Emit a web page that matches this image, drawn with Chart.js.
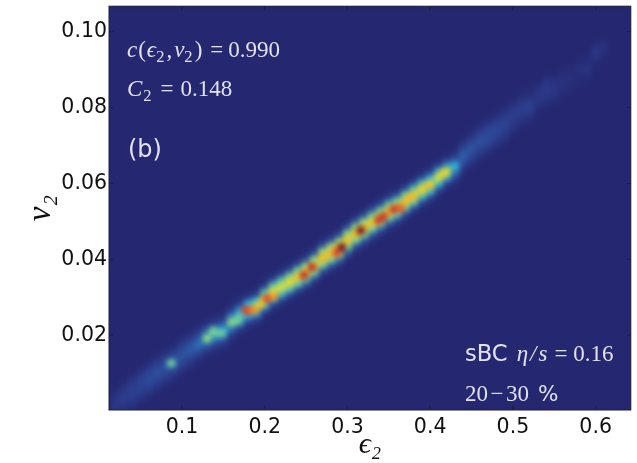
<!DOCTYPE html>
<html>
<head>
<meta charset="utf-8">
<title>v2 vs eps2</title>
<script src="https://cdn.jsdelivr.net/npm/chart.js@4"></script>
<style>
    html, body { margin: 0; padding: 0; background: #fff; }
    canvas { display: block; }
</style>
</head>
<body>
<canvas id="heatChart" width="637" height="463"></canvas>
<script>
// Tick labels
const xTicks = [0.1, 0.2, 0.3, 0.4, 0.5, 0.6];
const yTicks = [0.02, 0.04, 0.06, 0.08, 0.10];

// Ridge of the 2D histogram, one entry per eps2 column
const ridgeEps = [0.02, 0.03, 0.04, 0.05, 0.06, 0.07, 0.08, 0.09, 0.10, 0.11, 0.12, 0.13, 0.14, 0.15, 0.16, 0.17, 0.18, 0.19, 0.20, 0.21,
    0.22, 0.23, 0.24, 0.25, 0.26, 0.27, 0.28, 0.29, 0.30, 0.31, 0.32, 0.33, 0.34, 0.35, 0.36, 0.37, 0.38, 0.39, 0.40, 0.41,
    0.42, 0.43, 0.44, 0.45, 0.46, 0.47, 0.48, 0.49, 0.50, 0.51, 0.52, 0.53, 0.54, 0.55, 0.56, 0.57, 0.58, 0.59, 0.60, 0.61];
const ridgeV2 = [0.0021, 0.0037, 0.0053, 0.0071, 0.0084, 0.0100, 0.0116, 0.0129, 0.0147, 0.0161, 0.0176, 0.0192, 0.0203, 0.0211, 0.0234, 0.0250, 0.0266, 0.0274, 0.0295, 0.0313,
    0.0326, 0.0339, 0.0353, 0.0366, 0.0382, 0.0403, 0.0416, 0.0429, 0.0450, 0.0468, 0.0482, 0.0497, 0.0511, 0.0526, 0.0537, 0.0553, 0.0568, 0.0584, 0.0597, 0.0616,
    0.0632, 0.0645, 0.0674, 0.0692, 0.0711, 0.0724, 0.0739, 0.0755, 0.0776, 0.0797, 0.0803, 0.0829, 0.0845, 0.0850, 0.0866, 0.0876, 0.0897, 0.0903, 0.0945, 0.0961];

// Density across the ridge in each column, 0..1, lowest v2 first
const v2Step = 0.0015;
const profiles = [
    [.01, .04, .07, .08, .06, .03, 0], [.01, .05, .08, .10, .08, .04, .01], [.02, .06, .10, .11, .09, .05, .01], [.02, .07, .11, .12, .10, .05, .01],
    [.02, .07, .12, .14, .12, .06, .02], [.02, .07, .12, .15, .12, .06, .02], [.02, .07, .12, .16, .12, .06, .02], [.02, .07, .13, .18, .13, .06, .02],
    [.02, .07, .13, .16, .13, .07, .02], [.02, .07, .13, .18, .14, .07, .02], [.02, .07, .15, .22, .16, .07, .02], [.02, .07, .20, .33, .22, .07, .02],
    [.02, .08, .20, .32, .20, .07, .02], [.02, .08, .20, .32, .20, .07, .02], [.02, .08, .22, .34, .24, .08, .02], [.02, .09, .26, .38, .28, .09, .02],
    [.02, .09, .28, .48, .32, .09, .02], [.02, .10, .30, .50, .34, .10, .02], [.02, .11, .34, .54, .38, .11, .02], [.02, .12, .36, .54, .40, .12, .02],
    [.02, .12, .36, .52, .40, .12, .02], [.02, .13, .38, .56, .42, .13, .02], [.02, .14, .40, .60, .44, .14, .02], [.02, .15, .42, .62, .46, .15, .03],
    [.02, .15, .42, .62, .46, .15, .03], [.02, .16, .44, .62, .46, .16, .03], [.03, .16, .44, .62, .48, .16, .03], [.03, .17, .46, .64, .48, .17, .03],
    [.03, .17, .44, .60, .46, .17, .03], [.03, .16, .44, .62, .46, .16, .03], [.03, .16, .44, .64, .46, .16, .03], [.03, .16, .42, .60, .44, .16, .03],
    [.03, .16, .44, .64, .44, .15, .03], [.03, .16, .44, .64, .44, .15, .03], [.03, .15, .42, .64, .42, .14, .02], [.02, .15, .42, .62, .42, .14, .02],
    [.02, .14, .40, .60, .40, .13, .02], [.02, .14, .38, .58, .36, .11, .02], [.02, .13, .36, .56, .33, .10, .02], [.02, .12, .33, .52, .30, .08, .01],
    [.02, .11, .30, .50, .25, .06, .01], [.02, .10, .22, .32, .17, .05, .01], [.02, .08, .15, .19, .13, .05, .01], [.02, .07, .13, .16, .12, .05, .02],
    [.02, .07, .12, .15, .12, .06, .02], [.02, .07, .12, .14, .12, .06, .02], [.02, .06, .11, .13, .11, .05, .02], [.02, .06, .10, .12, .10, .05, .02],
    [.01, .05, .08, .10, .08, .04, .01], [.01, .05, .08, .10, .07, .03, .01], [.01, .04, .08, .11, .07, .03, .01], [.01, .03, .06, .07, .05, .02, 0],
    [.01, .04, .07, .09, .07, .03, .01], [0, .03, .05, .07, .05, .02, 0], [0, .02, .04, .05, .04, .02, 0], [0, .02, .03, .04, .03, .01, 0],
    [0, .01, .03, .04, .03, .01, 0], [0, .01, .04, .06, .03, .01, 0], [0, .01, .04, .08, .04, .01, 0], [0, .01, .03, .05, .02, 0, 0]
];

// Small hot spots that sit on the ridge
const spotEps = [0.0871, 0.1305, 0.1377, 0.1473, 0.1594, 0.1666, 0.1775, 0.1871, 0.1955, 0.2028, 0.2112, 0.2473, 0.2570, 0.2714, 0.2871, 0.2931, 0.3160, 0.3377, 0.3437, 0.3558, 0.3642, 0.3763, 0.3980, 0.4160];
const spotV2 = [0.0126, 0.0192, 0.0211, 0.0205, 0.0234, 0.0239, 0.0266, 0.0266, 0.0282, 0.0297, 0.0303, 0.0358, 0.0379, 0.0405, 0.0418, 0.0432, 0.0476, 0.0503, 0.0513, 0.0532, 0.0534, 0.0563, 0.0595, 0.0626];
const spotLevel = [0.42, 0.46, 0.44, 0.42, 0.45, 0.44, 0.82, 0.72, 0.62, 0.82, 0.70, 0.88, 0.88, 0.64, 0.82, 1, 1, 0.86, 0.86, 0.86, 0.78, 0.64, 0.62, 0.58];

// Muted jet colormap as it looks in the picture
const colorStops = [
    [0, 37, 39, 112], [.1, 44, 60, 140], [.2, 45, 95, 170], [.33, 50, 175, 215], [.44, 120, 210, 150],
    [.54, 225, 225, 50], [.68, 245, 170, 40], [.82, 225, 70, 40], [1, 130, 25, 30]
];

function densityColor(v) {
    for (let i = 1; i < colorStops.length; i++) {
        const a = colorStops[i - 1], b = colorStops[i];
        if (v <= b[0]) {
            const t = (v - a[0]) / (b[0] - a[0]);
            return `rgb(${a[1] + (b[1] - a[1]) * t}, ${a[2] + (b[2] - a[2]) * t}, ${a[3] + (b[3] - a[3]) * t})`;
        }
    }
    return 'rgb(130, 25, 30)';
}

// Build cells, dim ones first so the peaks stay on top
const cells = [];
ridgeEps.forEach((eps, i) => {
    profiles[i].forEach((v, k) => {
        if (v > 0) cells.push({ x: eps, y: ridgeV2[i] + (k - 3) * v2Step, v: v });
    });
});
cells.sort((a, b) => a.v - b.v);
const spots = spotEps.map((eps, i) => ({ x: eps, y: spotV2[i], v: spotLevel[i] }));

const serif = '"Liberation Serif", serif';
const sans = '"DejaVu Sans", sans-serif';
const textColor = 'rgb(226, 226, 238)';

// Draw a run of text pieces with italics and subscripts
function drawMath(ctx, x, y, pieces, size) {
    ctx.textAlign = 'left';
    ctx.textBaseline = 'alphabetic';
    ctx.fillStyle = textColor;
    pieces.forEach(p => {
        const px = p.sans ? p.sans : (p.sub ? size * 0.72 : size);
        const family = p.sans ? sans : serif;
        ctx.font = `${p.it ? 'italic ' : ''}${px}px ${family}`;
        ctx.fillText(p.t, x, p.sub ? y + size * 0.22 : y);
        x += ctx.measureText(p.t).width + (p.gap || 0);
    });
}

const heatPlugin = {
    id: 'heat',
    beforeDatasetsDraw(chart) {
        const { ctx, chartArea: a } = chart;
        ctx.save();
        ctx.fillStyle = 'rgb(37, 39, 112)';
        ctx.fillRect(a.left, a.top, a.width, a.height);
        ctx.restore();
    },
    // The original image is interpolated, so soften the cells
    afterDatasetsDraw(chart) {
        const { ctx, canvas, chartArea: a } = chart;
        ctx.save();
        ctx.beginPath();
        ctx.rect(a.left, a.top, a.width, a.height);
        ctx.clip();
        ctx.filter = 'blur(2.6px)';
        ctx.drawImage(canvas, a.left, a.top, a.width, a.height, a.left, a.top, a.width, a.height);
        ctx.restore();
    },
    afterDraw(chart) {
        const { ctx, chartArea: a, scales } = chart;
        ctx.save();
        // Frame and small inward ticks
        ctx.strokeStyle = 'rgb(30, 30, 60)';
        ctx.lineWidth = 1;
        ctx.strokeRect(a.left, a.top, a.width, a.height);
        ctx.beginPath();
        xTicks.forEach(v => {
            const px = scales.x.getPixelForValue(v);
            ctx.moveTo(px, a.bottom); ctx.lineTo(px, a.bottom - 4);
            ctx.moveTo(px, a.top); ctx.lineTo(px, a.top + 4);
        });
        yTicks.forEach(v => {
            const py = scales.y.getPixelForValue(v);
            ctx.moveTo(a.left, py); ctx.lineTo(a.left + 4, py);
            ctx.moveTo(a.right, py); ctx.lineTo(a.right - 4, py);
        });
        ctx.stroke();

        // Annotations inside the plot
        drawMath(ctx, 127, 57, [
            { t: 'c', it: true, gap: 1 }, { t: '(', gap: 1 }, { t: 'ϵ', it: true }, { t: '2', sub: true, gap: 2 }, { t: ',', gap: 2 },
            { t: 'v', it: true }, { t: '2', sub: true, gap: 2 }, { t: ')', gap: 8 }, { t: '=', gap: 5 }, { t: '0.990' }
        ], 23);
        drawMath(ctx, 127, 96, [
            { t: 'C', it: true, gap: 1 }, { t: '2', sub: true, gap: 9 }, { t: '=', gap: 7 }, { t: '0.148' }
        ], 23);
        drawMath(ctx, 128, 157, [{ t: '(b)', sans: 24 }], 23);
        drawMath(ctx, 465, 361, [
            { t: 'sBC', sans: 22.6, gap: 9 }, { t: 'η', it: true, gap: 2 }, { t: '/', it: true, gap: 2 }, { t: 's', it: true, gap: 7 },
            { t: '=', gap: 6 }, { t: '0.16' }
        ], 23);
        drawMath(ctx, 465, 401, [
            { t: '20', gap: 2.5 }, { t: '−', gap: 2.5 }, { t: '30', gap: 9 }, { t: '%', sans: 21.5 }
        ], 23);
        ctx.restore();
    }
};

new Chart(document.getElementById('heatChart').getContext('2d'), {
    type: 'scatter',
    data: {
        datasets: [{
            // hot spots on top of the ridge
            data: spots,
            pointStyle: 'rect',
            pointRadius: 5.6,
            pointBorderWidth: 0,
            backgroundColor: spots.map(c => densityColor(c.v))
        }, {
            data: cells,
            pointStyle: 'rect',
            pointRadius: 6.2,
            pointBorderWidth: 0,
            backgroundColor: cells.map(c => densityColor(c.v))
        }]
    },
    options: {
        responsive: false,
        animation: false,
        events: [],
        layout: { padding: { top: 5, right: 4 } },
        plugins: {
            legend: { display: false },
            tooltip: { enabled: false }
        },
        scales: {
            x: {
                type: 'linear',
                min: 0.0118,
                max: 0.6425,
                afterBuildTicks: s => { s.ticks = xTicks.map(v => ({ value: v })); },
                afterFit: s => { s.height = 53; s.paddingLeft = 0; s.paddingRight = 0; },
                grid: { display: false, drawTicks: false },
                border: { display: false },
                ticks: {
                    color: '#111',
                    padding: 5,
                    maxRotation: 0,
                    font: { family: sans, size: 20.5 },
                    callback: v => v.toFixed(1)
                },
                title: {
                    display: true,
                    text: 'ϵ₂',
                    color: '#111',
                    padding: { top: 0, bottom: 0 },
                    font: { family: serif, style: 'italic', size: 30 }
                }
            },
            y: {
                type: 'linear',
                min: 0.0003,
                max: 0.1067,
                afterBuildTicks: s => { s.ticks = yTicks.map(v => ({ value: v })); },
                afterFit: s => { s.width = 109; s.paddingTop = 0; s.paddingBottom = 0; },
                grid: { display: false, drawTicks: false },
                border: { display: false },
                ticks: {
                    color: '#111',
                    padding: 2,
                    font: { family: sans, size: 20.5 },
                    callback: v => v.toFixed(2)
                },
                title: {
                    display: true,
                    text: 'v₂',
                    color: '#111',
                    padding: { top: 22, bottom: 0 },
                    font: { family: serif, style: 'italic', size: 33 }
                }
            }
        }
    },
    plugins: [heatPlugin]
});
</script>
</body>
</html>
